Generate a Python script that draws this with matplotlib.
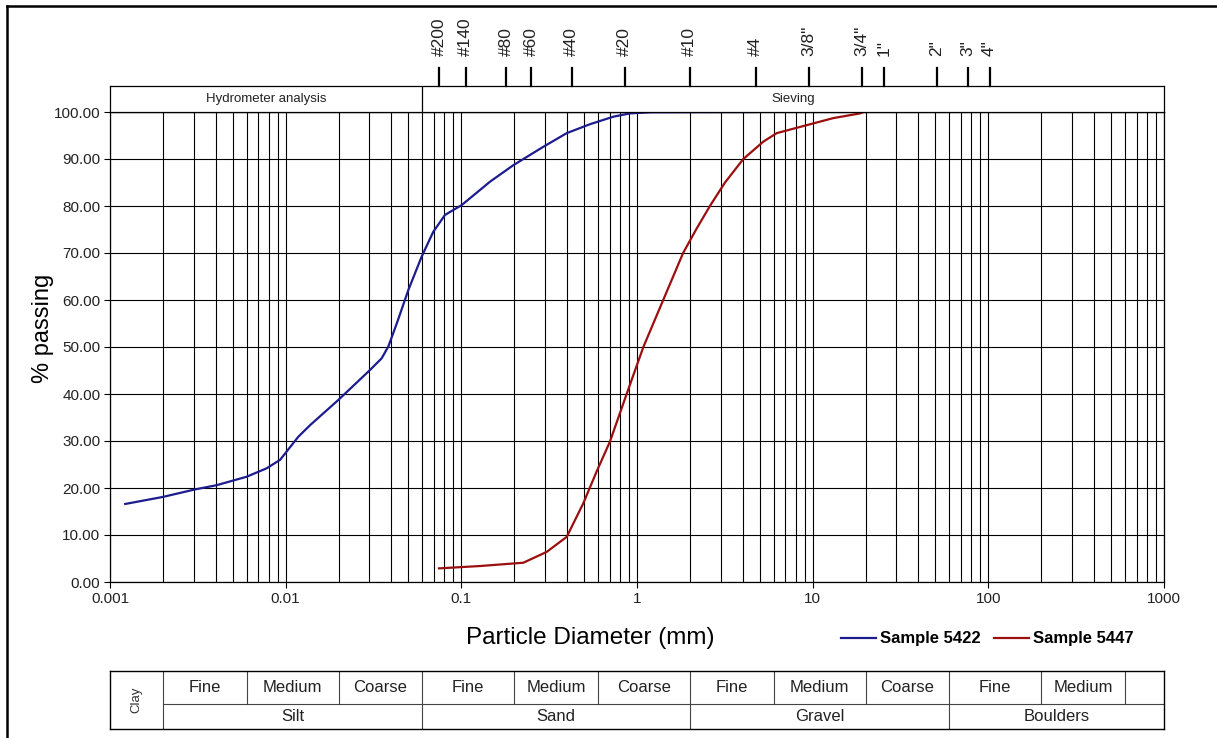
import numpy as np
import matplotlib.pyplot as plt
from matplotlib.lines import Line2D
from matplotlib.transforms import blended_transform_factory
from matplotlib.ticker import FixedLocator, LogLocator, NullFormatter

plt.rcParams['font.family'] = ['Liberation Sans', 'DejaVu Sans']

# grading curves (particle diameter in mm, % passing)
d_5422 = [0.00122, 0.0020, 0.00305, 0.00405, 0.0060, 0.0078, 0.0093, 0.0101,
          0.0118, 0.0138, 0.0199, 0.0302, 0.0352, 0.0384, 0.0429, 0.0499,
          0.0594, 0.0692, 0.0807, 0.1005, 0.146, 0.198, 0.293, 0.398, 0.54,
          0.733, 0.912, 1.2, 4.8]
p_5422 = [16.6, 18.1, 19.7, 20.6, 22.4, 24.2, 26.0, 27.7,
          30.9, 33.4, 38.7, 45.1, 47.6, 50.1, 55.0, 62.1,
          69.2, 74.5, 78.1, 80.2, 85.2, 88.7, 92.6, 95.5, 97.4,
          99.0, 99.7, 99.95, 100.0]

d_5447 = [0.0746, 0.1277, 0.2253, 0.306, 0.398, 0.494, 0.589, 0.702, 0.873,
          1.087, 1.41, 1.83, 2.17, 2.60, 3.17, 4.03, 5.24, 6.24, 9.25, 13.1,
          18.6, 19.5]
p_5447 = [2.9, 3.4, 4.1, 6.4, 9.6, 16.7, 23.5, 29.9, 40.0,
          50.0, 60.0, 70.0, 75.0, 80.0, 85.0, 90.0, 93.7, 95.5, 97.2, 98.7,
          99.7, 100.0]

# sieve apertures (mm) shown along the top
sieve_sizes = [0.075, 0.106, 0.18, 0.25, 0.425, 0.85, 2.0, 4.75, 9.5, 19.0,
               25.4, 50.8, 76.2, 101.6]
sieve_labels = ['#200', '#140', '#80', '#60', '#40', '#20', '#10', '#4',
                '3/8"', '3/4"', '1"', '2"', '3"', '4"']

# test method bands
method_edges = [0.001, 0.06, 1000]
method_labels = ['Hydrometer analysis', 'Sieving']

# soil classification table
sub_edges = [0.002, 0.006, 0.02, 0.06, 0.2, 0.6, 2, 6, 20, 60, 200, 600, 1000]
sub_labels = ['Fine', 'Medium', 'Coarse', 'Fine', 'Medium', 'Coarse',
              'Fine', 'Medium', 'Coarse', 'Fine', 'Medium', '']
main_edges = [0.002, 0.06, 2, 60, 1000]
main_labels = ['Silt', 'Sand', 'Gravel', 'Boulders']

decades = [0.001, 0.01, 0.1, 1, 10, 100, 1000]
decade_labels = ['0.001', '0.01', '0.1', '1', '10', '100', '1000']
y_ticks = np.arange(0, 101, 10)

W, H = 1217, 738


def box(x0, y0, x1, y1):
    return [x0 / W, 1 - y1 / H, (x1 - x0) / W, (y1 - y0) / H]


fig = plt.figure(figsize=(W / 100, H / 100), dpi=100)

# main grading chart
ax = fig.add_axes(box(110, 112, 1164, 582))
ax.set_xscale('log')
ax.set_xlim(0.001, 1000)
ax.set_ylim(0, 100)
ax.xaxis.set_major_locator(FixedLocator(decades))
ax.set_xticklabels(decade_labels)
ax.xaxis.set_minor_locator(LogLocator(base=10, subs=np.arange(2, 10), numticks=100))
ax.xaxis.set_minor_formatter(NullFormatter())
ax.set_yticks(y_ticks)
ax.set_yticklabels([f'{v:.2f}' for v in y_ticks])
ax.tick_params(which='major', length=4, width=0.8, labelsize=11,
               labelcolor='#222222', pad=3)
ax.tick_params(which='minor', length=0)
ax.grid(which='both', axis='x', color='black', lw=0.8)
ax.grid(which='major', axis='y', color='black', lw=0.8)
for s in ax.spines.values():
    s.set_linewidth(0.9)

ax.plot(d_5422, p_5422, color='#1c1c8f', lw=1.6, zorder=3, label='Sample 5422')
ax.plot(d_5447, p_5447, color='#9b0f0f', lw=1.6, zorder=3, label='Sample 5447')

ax.set_ylabel('% passing', fontsize=17)
ax.yaxis.set_label_coords(-0.053, 0.54)
fig.text(590 / W, 1 - 638 / H, 'Particle Diameter (mm)', fontsize=17.5,
         ha='center', va='center')

fig.legend(*ax.get_legend_handles_labels(), loc='center left',
           bbox_to_anchor=(834 / W, 1 - 639 / H), ncol=2, frameon=False,
           prop={'weight': 'bold', 'size': 12}, handlelength=2.1,
           handletextpad=0.25, columnspacing=0.8, borderaxespad=0)

# method header above the chart
hx = fig.add_axes(box(110, 86, 1164, 112))
hx.set_xscale('log')
hx.set_xlim(0.001, 1000)
hx.set_ylim(0, 1)
hx.set_xticks([])
hx.set_yticks([])
hx.minorticks_off()
for s in hx.spines.values():
    s.set_linewidth(0.9)
for e in method_edges[1:-1]:
    hx.axvline(e, color='black', lw=0.9)
for a, b, lab in zip(method_edges[:-1], method_edges[1:], method_labels):
    hx.text(np.sqrt(a * b), 0.5, lab, ha='center', va='center', fontsize=9.5,
            color='#222222')

# sieve ticks and labels
tr = blended_transform_factory(ax.transData, fig.transFigure)
for size, lab in zip(sieve_sizes, sieve_labels):
    fig.add_artist(Line2D([size, size], [1 - 86 / H, 1 - 68 / H],
                          transform=tr, color='black', lw=1.6))
    fig.text(size, 1 - 56 / H, lab, transform=tr, rotation=90, ha='center',
             va='bottom', fontsize=12.5, color='#222222')

# classification table
tx = fig.add_axes(box(110, 671, 1164, 729))
tx.set_xscale('log')
tx.set_xlim(0.001, 1000)
tx.set_ylim(0, 58)
tx.set_xticks([])
tx.set_yticks([])
tx.minorticks_off()
for s in tx.spines.values():
    s.set_linewidth(1.0)
tx.plot([0.002, 1000], [25, 25], color='#444444', lw=0.8)
for e in sub_edges[:-1]:
    y0 = 0 if e in main_edges else 25
    tx.plot([e, e], [y0, 58], color='#444444', lw=0.8)
for a, b, lab in zip(sub_edges[:-1], sub_edges[1:], sub_labels):
    tx.text(np.sqrt(a * b), 41.5, lab, ha='center', va='center', fontsize=12,
            color='#222222')
for a, b, lab in zip(main_edges[:-1], main_edges[1:], main_labels):
    tx.text(np.sqrt(a * b), 12.5, lab, ha='center', va='center', fontsize=12,
            color='#222222')
tx.text(np.sqrt(0.001 * 0.002), 29, 'Clay', rotation=90, ha='center',
        va='center', fontsize=9.5, color='#333333')

# page frame (top and left edges)
fig.add_artist(Line2D([7 / W, 1], [1 - 6 / H, 1 - 6 / H],
                      transform=fig.transFigure, color='black', lw=1.8))
fig.add_artist(Line2D([7 / W, 7 / W], [0, 1 - 6 / H],
                      transform=fig.transFigure, color='black', lw=1.8))

fig.savefig('out.png', dpi=100)
